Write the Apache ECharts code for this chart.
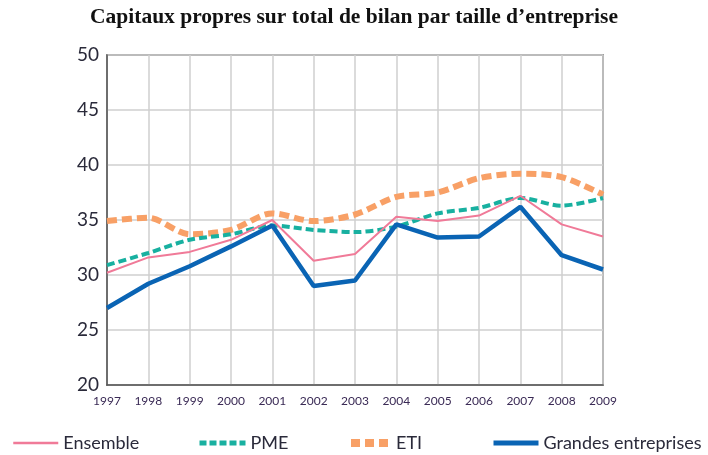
<!DOCTYPE html>
<html lang="fr">
<head>
    <meta charset="UTF-8">
    <title>Capitaux propres</title>
    <style>
        * { margin: 0; padding: 0; }
        .main { width: 708px; height: 455px; background: #fff; }
    </style>
</head>
<body>
<div id="main" class="main"></div>
<script src="https://cdn.jsdelivr.net/npm/echarts@6/dist/echarts.min.js"></script>
<script>
    var years = ['1997', '1998', '1999', '2000', '2001', '2002', '2003', '2004', '2005', '2006', '2007', '2008', '2009'];
    var ensemble = [30.2, 31.6, 32.1, 33.2, 35.0, 31.3, 31.9, 35.3, 34.9, 35.4, 37.2, 34.6, 33.5];
    var pme = [30.9, 32.0, 33.2, 33.7, 34.5, 34.1, 33.9, 34.4, 35.6, 36.1, 37.0, 36.3, 37.0];
    var eti = [34.9, 35.2, 33.7, 34.1, 35.6, 34.9, 35.5, 37.1, 37.5, 38.8, 39.2, 38.9, 37.3];
    var grandes = [27.0, 29.2, 30.8, 32.6, 34.5, 29.0, 29.5, 34.6, 33.4, 33.5, 36.2, 31.8, 30.5];

    var myChart = echarts.init(document.getElementById('main'), null, {renderer: 'canvas'});

    var legendText = {fontFamily: 'Lato', fontSize: 18, color: '#2a2a3a'};
    function leg(name, left, w, line) {
        return {data: [name], left: left, top: 429, itemWidth: w, itemHeight: 12, itemGap: 6,
            textStyle: legendText, selectedMode: false, itemStyle: {opacity: 0}, lineStyle: line};
    }

    myChart.setOption({
        title: {
            text: 'Capitaux propres sur total de bilan par taille d\u2019entreprise',
            left: 'center', top: 1,
            textStyle: {fontFamily: 'Liberation Serif', fontWeight: 'bold', fontSize: 21.5, color: '#111'}
        },
        legend: [
            leg('Ensemble', 7, 45, {width: 2.5}),
            leg('PME', 192, 46, {width: 5, type: [7, 3]}),
            leg('ETI', 342, 40, {width: 8, type: [9, 5]}),
            leg('Grandes entreprises', 486, 45, {width: 5})
        ],
        grid: {left: 107, right: 105, top: 55, bottom: 70, show: true, borderColor: '#555', borderWidth: 1.5},
        xAxis: {
            type: 'category', data: years, boundaryGap: false,
            axisLine: {lineStyle: {color: '#555', width: 1.5}},
            axisTick: {show: false},
            axisLabel: {color: '#3a2a55', fontFamily: 'Lato', fontSize: 12, margin: 10},
            splitLine: {show: true, lineStyle: {color: '#cfcfcf', width: 1.5}}
        },
        yAxis: {
            type: 'value', min: 20, max: 50, interval: 5,
            axisLine: {show: true, lineStyle: {color: '#555', width: 1.5}},
            axisTick: {show: false},
            axisLabel: {color: '#2a2a3a', fontFamily: 'Lato', fontSize: 19, margin: 8},
            splitLine: {lineStyle: {color: '#cfcfcf', width: 1.5}}
        },
        series: [
            {name: 'Ensemble', type: 'line', data: ensemble, symbol: 'none',
                itemStyle: {color: '#f07a98'}, lineStyle: {color: '#f07a98', width: 2}, z: 3},
            {name: 'PME', type: 'line', data: pme, symbol: 'none', smooth: 0.3,
                itemStyle: {color: '#18b0a0'}, lineStyle: {color: '#18b0a0', width: 4, type: [8, 4]}, z: 2},
            {name: 'ETI', type: 'line', data: eti, symbol: 'none', smooth: 0.3,
                itemStyle: {color: '#f8a066'}, lineStyle: {color: '#f8a066', width: 6, type: [10, 5]}, z: 1},
            {name: 'Grandes entreprises', type: 'line', data: grandes, symbol: 'none',
                itemStyle: {color: '#0a64b4'}, lineStyle: {color: '#0a64b4', width: 4.5}, z: 4}
        ]
    });
</script>
</body>
</html>
